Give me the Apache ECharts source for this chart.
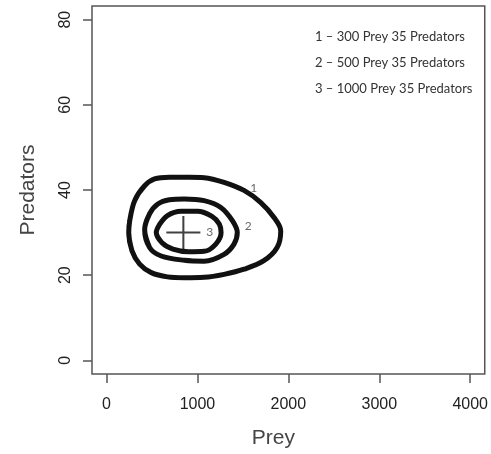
<!DOCTYPE html>
<html><head><meta charset="utf-8">
<script src="https://cdn.jsdelivr.net/npm/echarts@6/dist/echarts.min.js"></script>
<style>html,body{margin:0;padding:0;background:#fff}#c{width:491px;height:454px}</style>
</head><body><div id="c"></div>
<script>
// Orbit 1: start 300 prey, 35 predators (prey, predators)
const orbit1 = [[244,30.0],[255,32.8],[309,37.5],[419,41.0],[528,42.6],[692,43.0],[910,43.0],[1074,42.9],[1293,41.8],[1512,39.9],[1694,37.1],[1840,33.6],[1916,30.4],[1876,26.5],[1730,23.4],[1512,21.4],[1293,20.2],[1074,19.5],[856,19.4],[670,19.6],[492,20.6],[364,22.6],[280,25.7]];
// Orbit 2: start 500 prey, 35 predators
const orbit2 = [[419,30.7],[473,34.4],[564,36.7],[692,37.7],[856,37.9],[1074,37.5],[1257,35.9],[1384,32.8],[1438,30.0],[1402,27.3],[1293,24.9],[1074,23.3],[856,23.5],[601,24.5],[473,26.5]];
// Orbit 3: start 1000 prey, 35 predators
const orbit3 = [[547,30.0],[583,31.9],[670,34.0],[820,35.0],[1000,35.0],[1160,33.8],[1240,32.0],[1260,30.0],[1202,27.3],[1074,25.6],[900,25.5],[730,26.1],[610,27.6]];
const equilibrium = [[845,30.0]];
const orbitLabels = [{name:'1',value:[1620,40.5]},{name:'2',value:[1559,31.6]},{name:'3',value:[1135,30.0]}];
const legendLines = ['1 \u2013 300 Prey 35 Predators','2 \u2013 500 Prey 35 Predators','3 \u2013 1000 Prey 35 Predators'];
const xTicks = [0,1000,2000,3000,4000];
const yTicks = [0,20,40,60,80];

function closeLoop(pts){ return [pts[pts.length-1]].concat(pts, [pts[0], pts[1]]); }
const lineStyle = {color:'#111', width:5};
function orbit(data){
  return {type:'line', data: closeLoop(data), smooth:0.35, showSymbol:false, symbol:'none', lineStyle: lineStyle, silent:true, animation:false};
}
const chart = echarts.init(document.getElementById('c'), null, {renderer:'canvas'});
chart.setOption({
  animation:false,
  title:{text: legendLines.join('\n'), left:310, top:19, textStyle:{fontFamily:'Lato', fontSize:13, fontWeight:'normal', color:'#333', lineHeight:26}},
  grid:{left:92, right:4, top:6, bottom:80, show:true, borderColor:'#555', borderWidth:1.5, backgroundColor:'transparent'},
  xAxis:{type:'value', min:-160, max:4160, name:'Prey', nameLocation:'middle', nameGap:54,
    nameTextStyle:{fontFamily:'Liberation Sans', fontSize:21, color:'#444', padding:[0,30,0,0]},
    axisLine:{show:false, onZero:false}, splitLine:{show:false},
    axisTick:{show:true, inside:false, length:9, lineStyle:{color:'#555', width:1.5}, customValues:xTicks},
    axisLabel:{customValues:xTicks, margin:23, formatter:function(v){return String(v);}, fontFamily:'Liberation Sans', fontSize:16, color:'#222'}},
  yAxis:{type:'value', min:-3.2, max:83.2, name:'Predators', nameLocation:'middle', nameGap:53, nameRotate:90,
    nameTextStyle:{fontFamily:'Liberation Sans', fontSize:21, color:'#444'},
    axisLine:{show:false, onZero:false}, splitLine:{show:false},
    axisTick:{show:true, inside:false, length:9, lineStyle:{color:'#555', width:1.5}, customValues:yTicks},
    axisLabel:{customValues:yTicks, rotate:90, margin:18, formatter:function(v){return String(v);}, fontFamily:'Liberation Sans', fontSize:16, color:'#222'}},
  series:[
    orbit(orbit1), orbit(orbit2), orbit(orbit3),
    {type:'scatter', data:equilibrium, symbol:'path://M1,0L1,2M0,1L2,1', symbolSize:[34,33],
     itemStyle:{color:'transparent', borderColor:'#111', borderWidth:2}, silent:true},
    {type:'scatter', data:orbitLabels, symbolSize:0, silent:true,
     label:{show:true, position:'inside', formatter:'{b}', fontFamily:'Lato', fontSize:12, color:'#444'}}
  ]
});
</script></body></html>
